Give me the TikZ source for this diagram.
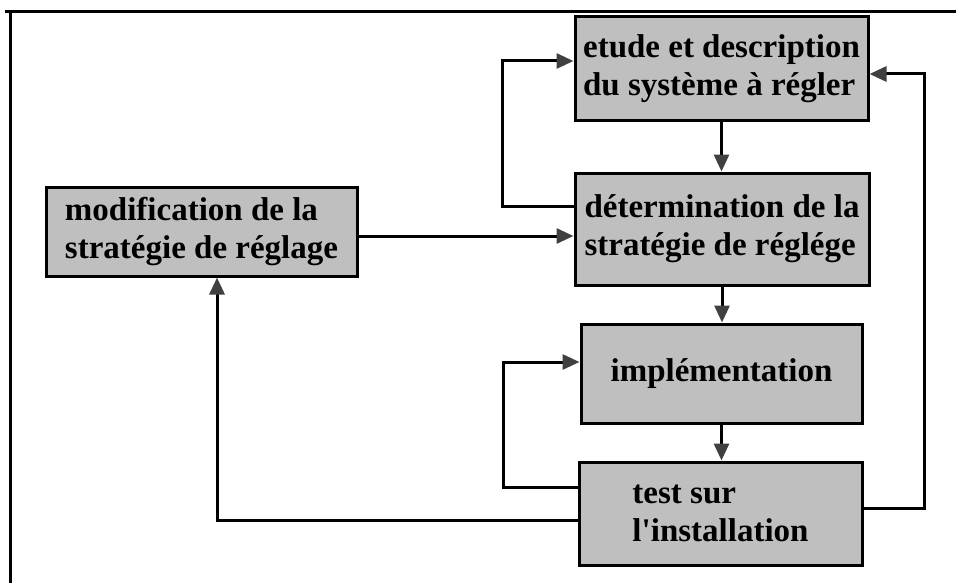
\documentclass[tikz,border=0pt]{standalone}
\usepackage{fontspec}
\setmainfont{Liberation Serif}
\usetikzlibrary{arrows.meta}

\begin{document}
\begin{tikzpicture}[x=0.5pt, y=-0.5pt,
  box/.style={draw=black, line width=1.5pt, fill=gray!50, inner sep=0pt,
    align=left, font=\fontsize{16.5}{19}\selectfont\bfseries},
  arr/.style={line width=1.5pt, -{Triangle[length=8.5pt, width=7.5pt, color=black!75]}},
  link/.style={line width=1.5pt}]

\useasboundingbox (0,0) rectangle (956,583);

% frame
\draw[line width=1.5pt] (5,12) -- (956,12);
\draw[line width=1.5pt] (10,12) -- (10,583);

% boxes
\node[box, minimum width=146.5pt, minimum height=51.5pt] (etude) at (721.5,68.5)
  {etude et description\\du système à régler};
\node[box, minimum width=147pt, minimum height=56pt] (determ) at (722,229)
  {détermination de la\\stratégie de réglége};
\node[box, minimum width=140.5pt, minimum height=49.5pt] (impl) at (721.5,373.5)
  {implémentation};
\node[box, minimum width=141.5pt, minimum height=51.5pt] (test) at (720.5,513.5)
  {test sur\\ l\textquotesingle installation};
\node[box, minimum width=155.5pt, minimum height=44.5pt] (modif) at (201.5,231.5)
  {modification de la\\stratégie de réglage};

% main chain
\draw[arr] (etude.south) -- (etude.south |- determ.north);
\draw[arr] (determ.south) -- (determ.south |- impl.north);
\draw[arr] (impl.south) -- (impl.south |- test.north);

% loops on the left
\draw[arr] ([yshift=11.5pt]determ.west) -- ++(-35.5pt,0) |- ([yshift=3.75pt]etude.west);
\draw[arr] ([yshift=13.25pt]test.west) -- ++(-37pt,0) |- ([yshift=5.75pt]impl.west);

% modification
\draw[arr] ([yshift=-2.25pt]modif.east) -- ([yshift=-2.25pt]modif.east -| determ.west);
\draw[arr] ([yshift=-3.25pt]test.west) -| ([xshift=7.75pt]modif.south);

% back to the top
\draw[arr] ([yshift=2.75pt]test.east) -- ++(30.5pt,0) |- ([yshift=-2.75pt]etude.east);

\end{tikzpicture}
\end{document}
